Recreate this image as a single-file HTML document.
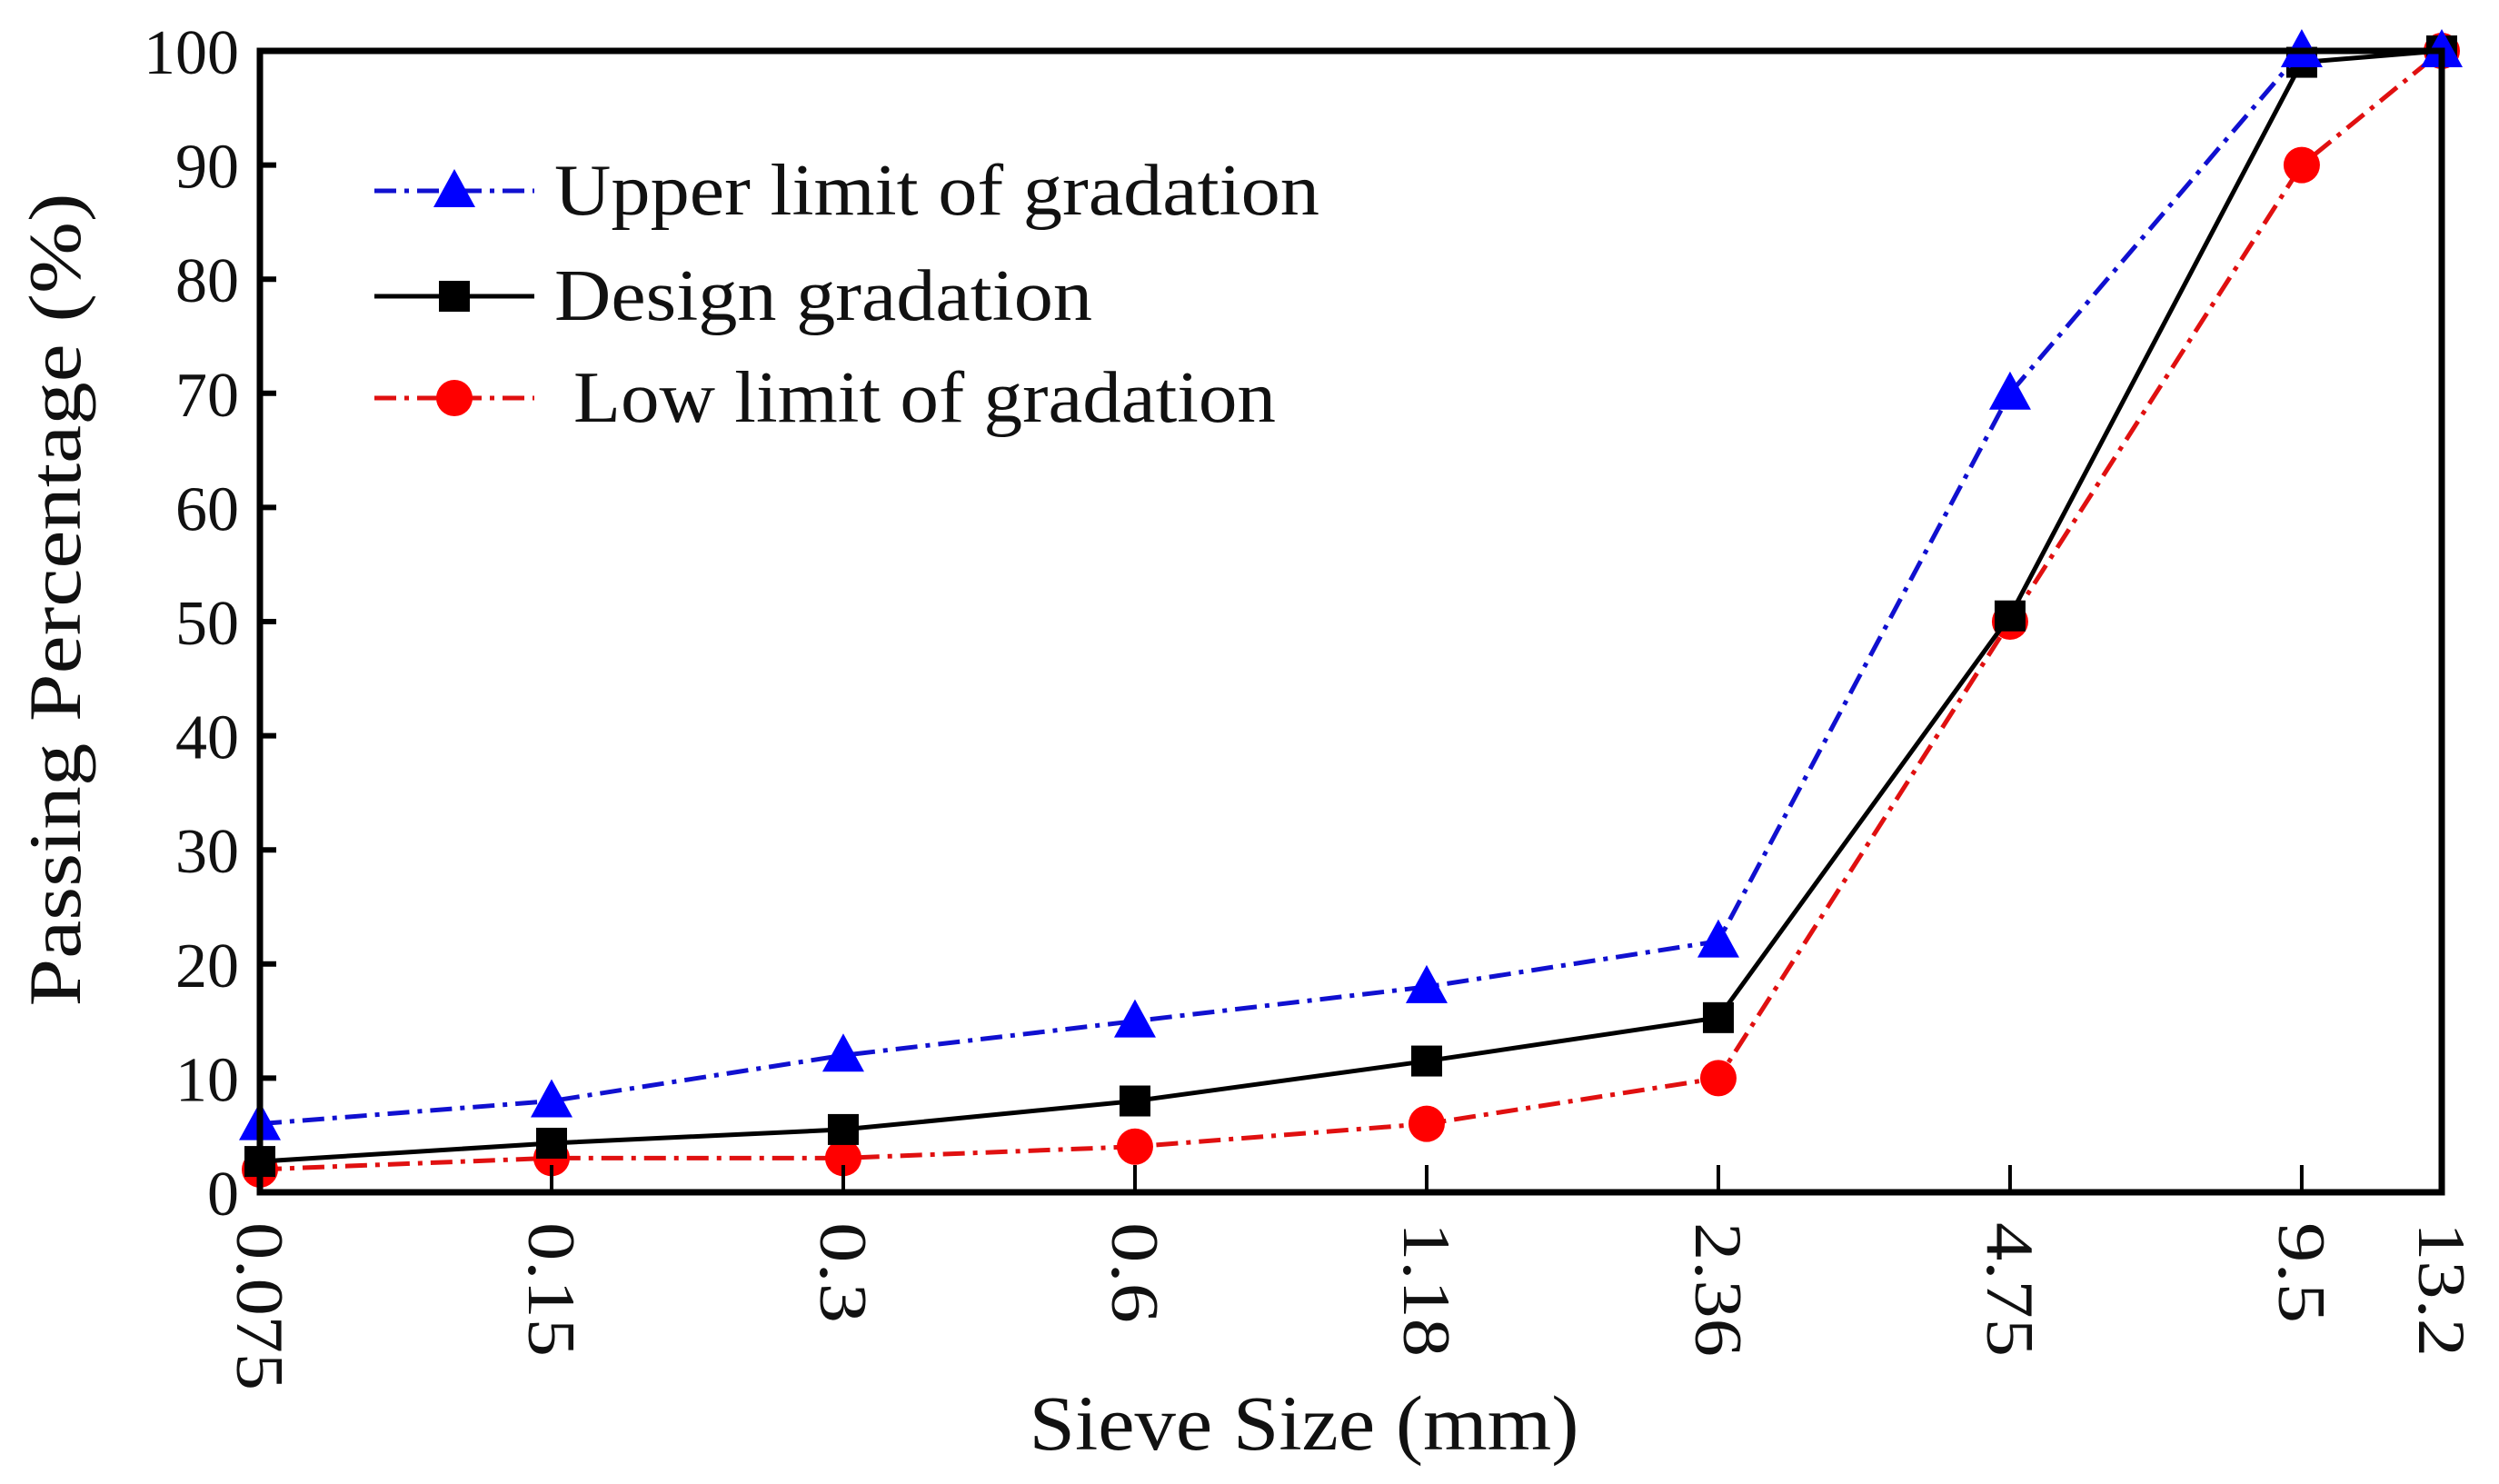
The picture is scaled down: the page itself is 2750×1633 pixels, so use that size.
<!DOCTYPE html>
<html><head><meta charset="utf-8"><style>
html,body{margin:0;padding:0;background:#fff}
svg{display:block}
text{font-family:"Liberation Serif",serif;fill:#111}
</style></head><body>
<svg id="chart" width="2750" height="1633" viewBox="0 0 2750 1633">
<g id="marks"></g>
<g id="axes"></g>
<g id="legend">
  <g>
    <line x1="412" y1="210" x2="588" y2="210" stroke="#1010d0" stroke-width="5" stroke-dasharray="24,9,5,9"/>
    <polygon points="500,186 523,228 477,228" fill="#0000ff"/>
    <text x="610" y="236" font-size="80" textLength="842" lengthAdjust="spacingAndGlyphs">Upper limit of gradation</text>
  </g>
  <g>
    <line x1="412" y1="326" x2="588" y2="326" stroke="#000" stroke-width="5"/>
    <rect x="483" y="309" width="34" height="34" fill="#000"/>
    <text x="610" y="352" font-size="80" textLength="592" lengthAdjust="spacingAndGlyphs">Design gradation</text>
  </g>
  <g>
    <line x1="412" y1="438" x2="588" y2="438" stroke="#e01010" stroke-width="5" stroke-dasharray="24,9,5,9"/>
    <circle cx="500" cy="438" r="20" fill="#ff0000"/>
    <text x="631" y="464" font-size="80" textLength="773" lengthAdjust="spacingAndGlyphs">Low limit of gradation</text>
  </g>
</g>
<text x="1435" y="1595" font-size="86" text-anchor="middle" textLength="605" lengthAdjust="spacingAndGlyphs">Sieve Size (mm)</text>
<text transform="translate(88,660) rotate(-90)" font-size="82" text-anchor="middle" textLength="895" lengthAdjust="spacingAndGlyphs">Passing Percentage (%)</text>
</svg>
<script>
const categories = ["0.075","0.15","0.3","0.6","1.18","2.36","4.75","9.5","13.2"];
const categoryAxisUnits = [0,1,2,3,4,5,6,7,7.48];
const upperValues = [6,8,12,15,18,22,70,100,100];
const designValues = [2.7,4.3,5.5,8,11.5,15.3,50.5,99,100];
const lowValues = [2,3,3,4,6,10,50,90,100];
const yTicks = [0,10,20,30,40,50,60,70,80,90,100];

const L=286,R=2687,T=56,B=1312;
const NS="http://www.w3.org/2000/svg";
const xMax=categoryAxisUnits[categoryAxisUnits.length-1];
function xS(i){return L+(R-L)*categoryAxisUnits[i]/xMax;}
function yS(v){return B-(B-T)*v/100;}
function mk(tag,attrs,parent){const e=document.createElementNS(NS,tag);for(const k in attrs)e.setAttribute(k,attrs[k]);parent.appendChild(e);return e;}
const marks=document.getElementById('marks'), axes=document.getElementById('axes');

function series(vals,color,dash,marker,name){
  const g=mk('g',{},marks);
  
  
  const pts=vals.map((v,i)=>xS(i)+','+yS(v)).join(' ');
  const pl=mk('polyline',{points:pts,fill:'none',stroke:color,'stroke-width':5,'stroke-dasharray':dash},g);
  
  
  vals.forEach((v,i)=>{
    const x=xS(i),y=yS(v);let m;
    if(marker==='tri') m=mk('polygon',{points:`${x},${y-24} ${x+23},${y+18} ${x-23},${y+18}`,fill:'#0000ff'},g);
    else if(marker==='sq') m=mk('rect',{x:x-17,y:y-17,width:34,height:34,fill:'#000'},g);
    else m=mk('circle',{cx:x,cy:y,r:20,fill:'#ff0000'},g);
    
    
  });
}
series(lowValues,'#e01010','24,9,5,9','circ','low-limit');
series(designValues,'#000','none','sq','design');
series(upperValues,'#1010d0','24,9,5,9','tri','upper-limit');

const fr=mk('rect',{x:L,y:T,width:R-L,height:B-T,fill:'none',stroke:'#000','stroke-width':7},axes);


yTicks.forEach(v=>{
  const y=yS(v);
  const t=mk('line',{x1:L,y1:y,x2:L+18,y2:y,stroke:'#000','stroke-width':6},axes);
  
  
  const tx=mk('text',{x:263,y:y+25,'font-size':70,'text-anchor':'end'},axes);
  tx.textContent=v;
  
  
});
categories.forEach((c,i)=>{
  const x=xS(i);
  const t=mk('line',{x1:x,y1:B,x2:x,y2:B-30,stroke:'#000','stroke-width':4},axes);
  
  
  const tx=mk('text',{transform:`translate(${x-25},1345) rotate(90)`,'font-size':74,'text-anchor':'start'},axes);
  tx.textContent=c;
  tx.setAttribute('textLength', String(c.length*37));
  tx.setAttribute('lengthAdjust', 'spacingAndGlyphs');
  
  
});
</script>
</body></html>
